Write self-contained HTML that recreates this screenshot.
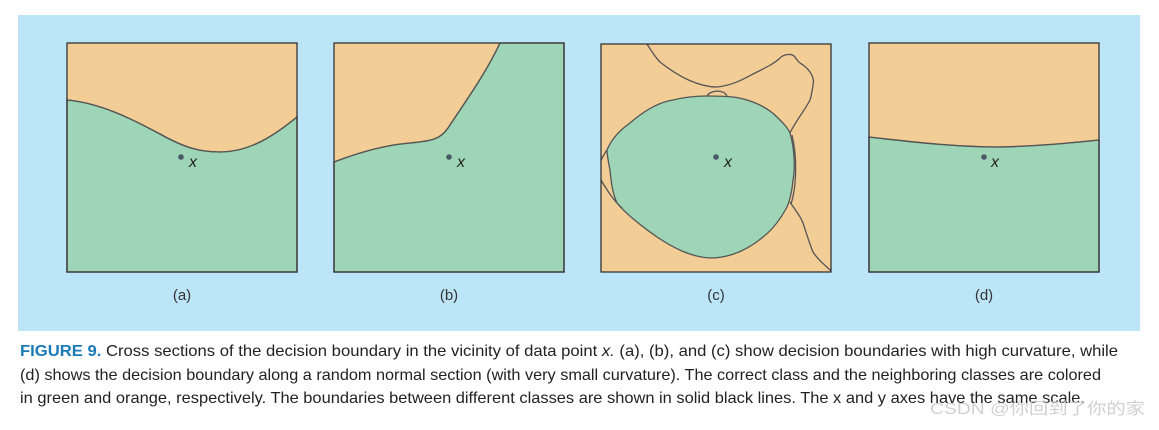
<!DOCTYPE html>
<html><head><style>
body{margin:0;background:#fff;width:1159px;height:425px;overflow:hidden}
</style></head><body>
<svg width="1159" height="425" xmlns="http://www.w3.org/2000/svg" font-family="Liberation Sans, sans-serif">
<rect x="18" y="15" width="1122" height="316" fill="#bde5f8"/>
<g stroke="#555" stroke-width="1.3" fill="none">
<rect x="67" y="43" width="230" height="229" fill="#f2cd96" stroke="none"/>
<path d="M67,100 C100,103 130,118 160,134 C185,148 200,152 220,152 C250,152 275,135 297,117 L297,272 L67,272 Z" fill="#9dd5b6"/>
<path d="M67,100 C100,103 130,118 160,134 C185,148 200,152 220,152 C250,152 275,135 297,117"/>
<rect x="67" y="43" width="230" height="229" stroke="#333"/>
<rect x="334" y="43" width="230" height="229" fill="#f2cd96" stroke="none"/>
<path d="M334,162 C360,152 385,145 410,143 C430,141 440,140 448,128 C465,102 485,75 500,43 L564,43 L564,272 L334,272 Z" fill="#9dd5b6"/>
<path d="M334,162 C360,152 385,145 410,143 C430,141 440,140 448,128 C465,102 485,75 500,43"/>
<rect x="334" y="43" width="230" height="229" stroke="#333"/>
<rect x="601" y="44" width="230" height="228" fill="#f2cd96" stroke="none"/>
<path d="M607,150 C612,138 620,130 630,123 C645,110 660,102 673,100 C685,97 695,96 707,96 C727,96 738,97 747,100 C760,104 770,110 777,117 C783,123 788,128 790,133 C795,150 795,170 793,180 C792,192 790,200 787,207 C780,220 772,230 763,237 C745,252 728,258 710,258 C690,257 672,247 657,237 C640,225 625,213 617,203 C612,192 611,180 610,170 C608,160 607,155 607,150 Z" fill="#9dd5b6"/>
<path d="M707,96 C710,90 724,89 727,96"/>
<path d="M647,44 C652,52 656,58 660,62 C680,78 700,87 717,87 C735,85 745,78 757,72 C767,67 775,63 780,58 C784,54 792,53 795,57 C798,62 800,63 803,65 C810,70 815,78 813,85 C812,92 811,97 810,100 C805,110 795,122 790,133"/>
<path d="M790,202 C795,210 800,215 803,223 C807,235 810,245 813,252 C818,260 825,265 831,271"/>
<path d="M601,160 C603,157 604,154 607,150"/>
<path d="M601,180 C607,190 613,200 622,208"/>
<path d="M792,135 C797,155 797,185 791,204"/>
<rect x="601" y="44" width="230" height="228" stroke="#333"/>
<rect x="869" y="43" width="230" height="229" fill="#f2cd96" stroke="none"/>
<path d="M869,137 C920,143 960,147 1000,147 C1040,146 1070,143 1099,140 L1099,272 L869,272 Z" fill="#9dd5b6"/>
<path d="M869,137 C920,143 960,147 1000,147 C1040,146 1070,143 1099,140"/>
<rect x="869" y="43" width="230" height="229" stroke="#333"/>
</g>
<g fill="#4a5a66"><circle cx="181" cy="157" r="2.8"/><circle cx="449" cy="157" r="2.8"/><circle cx="716" cy="157" r="2.8"/><circle cx="984" cy="157" r="2.8"/></g>
<g font-size="16" font-style="italic" fill="#222"><text x="189" y="167">x</text><text x="457" y="167">x</text><text x="724" y="167">x</text><text x="991" y="167">x</text></g>
<g font-size="15" fill="#333" text-anchor="middle"><text x="182" y="300">(a)</text><text x="449" y="300">(b)</text><text x="716" y="300">(c)</text><text x="984" y="300">(d)</text></g>
<g font-size="16" fill="#222">
<text x="20" y="356" textLength="1098" lengthAdjust="spacingAndGlyphs"><tspan fill="#1a7ab8" font-weight="bold">FIGURE 9.</tspan> Cross sections of the decision boundary in the vicinity of data point <tspan font-style="italic">x.</tspan> (a), (b), and (c) show decision boundaries with high curvature, while</text>
<text x="20" y="380" textLength="1081" lengthAdjust="spacingAndGlyphs">(d) shows the decision boundary along a random normal section (with very small curvature). The correct class and the neighboring classes are colored</text>
<text x="20" y="403" textLength="1065" lengthAdjust="spacingAndGlyphs">in green and orange, respectively. The boundaries between different classes are shown in solid black lines. The x and y axes have the same scale.</text>
</g>
<text x="930" y="414" font-size="16" fill="#c8c8c8" textLength="215" lengthAdjust="spacingAndGlyphs" font-family="Liberation Sans, Noto Sans CJK SC, sans-serif" opacity="0.85">CSDN @你回到了你的家</text>
</svg>
</body></html>
